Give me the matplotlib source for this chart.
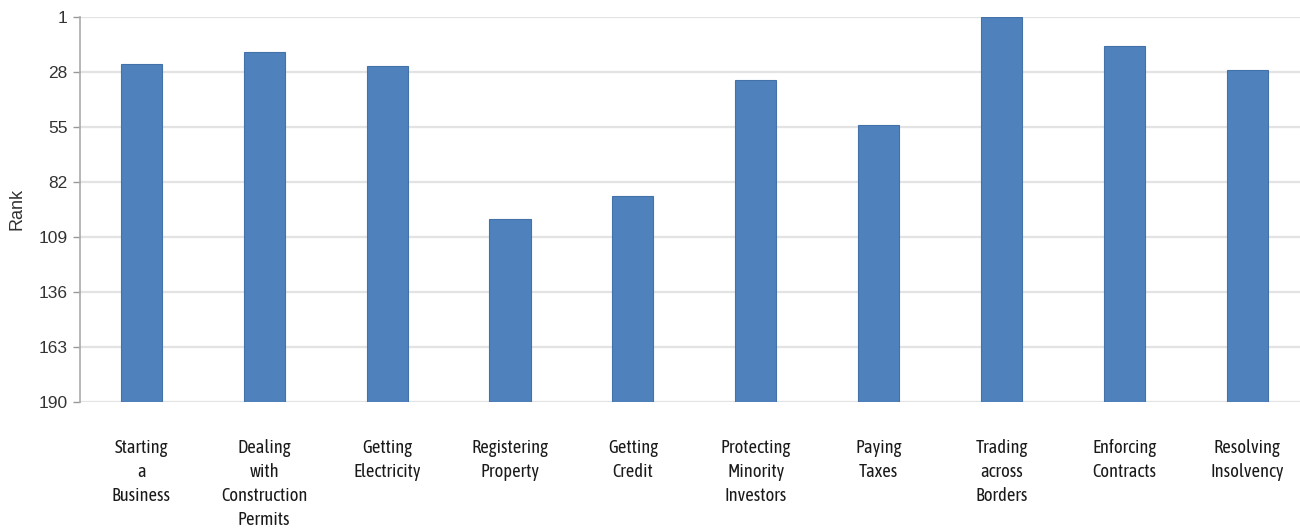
import numpy as np
import matplotlib
matplotlib.use('Agg')
import matplotlib.pyplot as plt

# Doing Business ranks (lower is better)
categories = ['Starting\na\nBusiness', 'Dealing\nwith\nConstruction\nPermits',
              'Getting\nElectricity', 'Registering\nProperty', 'Getting\nCredit',
              'Protecting\nMinority\nInvestors', 'Paying\nTaxes',
              'Trading\nacross\nBorders', 'Enforcing\nContracts',
              'Resolving\nInsolvency']
ranks = [24, 18, 25, 100, 89, 32, 54, 1, 15, 27]
yticks = [1, 28, 55, 82, 109, 136, 163, 190]

fig = plt.figure(figsize=(13., 5.31), dpi=100)
ax = fig.add_axes([0.0615, 0.243, 0.9385, 0.725])

x = np.arange(len(categories))
base = 190
ax.bar(x, np.array(ranks) - base, bottom=base, width=0.335,
       color='#4f81bd', edgecolor='#4472a8', linewidth=0.8, zorder=3)

ax.set_ylim(190, 1)
ax.set_xlim(-0.5, 9.43)
ax.set_yticks(yticks)
ax.set_yticklabels([str(t) for t in yticks], fontsize=12.5,
                   family='Liberation Sans', color='#333333')
ax.yaxis.grid(True, color='#e3e3e3', linewidth=1.6, zorder=0)
ax.set_axisbelow(True)

ax.set_xticks(x)
ax.set_xticklabels(categories, fontsize=13.3,
                   family=['Asap Condensed', 'Liberation Sans'],
                   color='#1a1a1a', linespacing=1.42)
ax.tick_params(axis='x', length=0, pad=27)
ax.tick_params(axis='y', length=5, color='#999999', width=1, pad=4)

for s in ['top', 'right', 'bottom']:
    ax.spines[s].set_visible(False)
ax.spines['left'].set_color('#aaaaaa')
ax.spines['left'].set_linewidth(1.2)

fig.text(0.013, 0.607, 'Rank', rotation=90, ha='center', va='center',
         fontsize=13, family='Liberation Sans', color='#333333')

fig.savefig('out.png', dpi=100)
